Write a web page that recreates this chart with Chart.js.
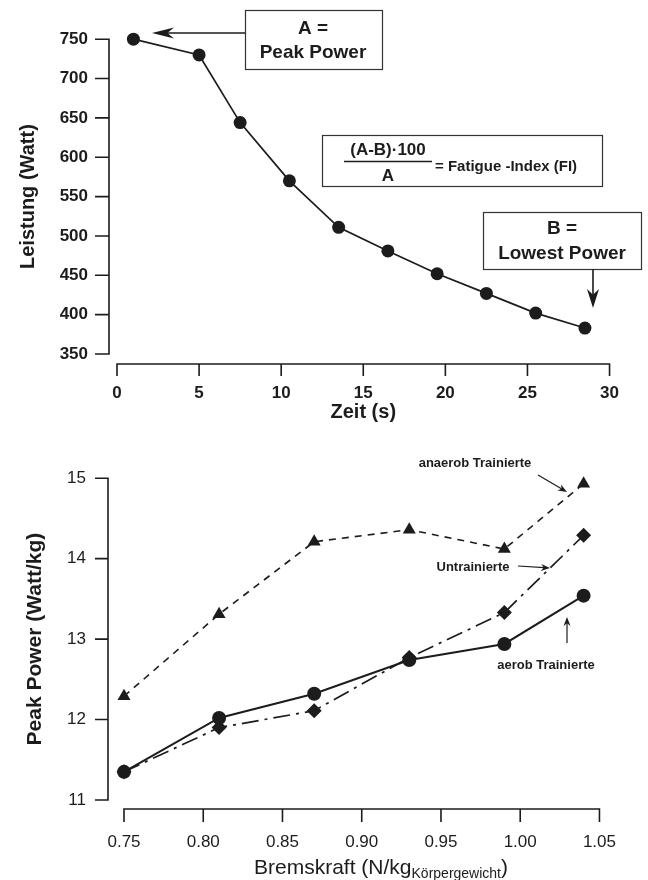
<!DOCTYPE html>
<html><head><meta charset="utf-8">
<script src="https://cdn.jsdelivr.net/npm/chart.js@4.4.0/dist/chart.umd.min.js"></script>
<style>
html,body{margin:0;padding:0;background:#fff;}
#wrap{position:relative;width:648px;height:880px;overflow:hidden;}
canvas{position:absolute;left:0;}
</style></head><body>
<div id="wrap">
<canvas id="c1" width="648" height="430" style="top:0"></canvas>
<canvas id="c2" width="648" height="450" style="top:430px"></canvas>
</div>
<script>
// ---- data: top chart ----
const zeitSec = [1, 5, 7.5, 10.5, 13.5, 16.5, 19.5, 22.5, 25.5, 28.5];
const leistungWatt = [750, 730, 644, 570, 511, 481, 452, 427, 402, 383];
const zeitTicks = [0, 5, 10, 15, 20, 25, 30];
const leistungTicks = [350, 400, 450, 500, 550, 600, 650, 700, 750];

// ---- data: bottom chart ----
const bremskraft = [0.75, 0.81, 0.87, 0.93, 0.99, 1.04];
const aerobTrainierte = [11.35, 12.02, 12.32, 12.74, 12.94, 13.54];
const untrainierte = [11.35, 11.90, 12.11, 12.77, 13.33, 14.29];
const anaerobTrainierte = [12.29, 13.31, 14.21, 14.36, 14.12, 14.93];
const bremsTicks = [0.75, 0.80, 0.85, 0.90, 0.95, 1.00, 1.05];
const bremsTickLabels = ['0.75', '0.80', '0.85', '0.90', '0.95', '1.00', '1.05'];
const peakTicks = [11, 12, 13, 14, 15];

const INK = '#1c1c1c';
const FONT = "'Liberation Sans', Arial, Helvetica, sans-serif";
Chart.defaults.font.family = FONT;
Chart.defaults.color = INK;

function pts(xs, ys) { return xs.map((x, i) => ({ x: x, y: ys[i] })); }

function offsetAxes(id, cfg) {
  return {
    id: id,
    afterDraw(chart) {
      const ctx = chart.ctx, a = chart.chartArea, x = chart.scales.x, y = chart.scales.y;
      ctx.save();
      ctx.strokeStyle = INK; ctx.lineWidth = cfg.lw; ctx.lineCap = 'butt';
      ctx.beginPath();
      const yx = a.left - cfg.yOff;
      ctx.moveTo(yx, y.getPixelForValue(y.min) + cfg.lw / 2);
      ctx.lineTo(yx, y.getPixelForValue(y.max) - cfg.lw / 2);
      y.ticks.forEach(t => { const py = y.getPixelForValue(t.value); ctx.moveTo(yx - cfg.yTick, py); ctx.lineTo(yx, py); });
      const xy = a.bottom + cfg.xOff;
      ctx.moveTo(x.getPixelForValue(x.min) - cfg.lw / 2, xy);
      ctx.lineTo(x.getPixelForValue(x.max) + cfg.lw / 2, xy);
      x.ticks.forEach(t => { const px = x.getPixelForValue(t.value); ctx.moveTo(px, xy); ctx.lineTo(px, xy + cfg.xTick); });
      ctx.stroke();
      ctx.restore();
    }
  };
}

function arrowHead(ctx, tx, ty, dx, dy, len, hw) {
  // tip at (tx,ty); (dx,dy) unit vector pointing from tail to tip
  const bx = tx - dx * len, by = ty - dy * len;
  const nx = -dy, ny = dx;
  ctx.beginPath();
  ctx.moveTo(tx, ty);
  ctx.lineTo(bx + nx * hw, by + ny * hw);
  ctx.lineTo(tx - dx * len * 0.7, ty - dy * len * 0.7);
  ctx.lineTo(bx - nx * hw, by - ny * hw);
  ctx.closePath();
  ctx.fill();
}
function arrow(ctx, x1, y1, x2, y2, len, hw, lw) {
  const L = Math.hypot(x2 - x1, y2 - y1), dx = (x2 - x1) / L, dy = (y2 - y1) / L;
  ctx.lineWidth = lw;
  ctx.beginPath(); ctx.moveTo(x1, y1); ctx.lineTo(x2 - dx * len * 0.6, y2 - dy * len * 0.6); ctx.stroke();
  arrowHead(ctx, x2, y2, dx, dy, len, hw);
}

// ---------------- TOP CHART ----------------
const topNotes = {
  id: 'topNotes',
  afterDraw(chart) {
    const ctx = chart.ctx;
    ctx.save();
    ctx.strokeStyle = '#333'; ctx.fillStyle = INK; ctx.lineWidth = 1.2;
    ctx.textAlign = 'center'; ctx.textBaseline = 'middle';
    // A box
    ctx.strokeRect(245.5, 10.5, 137, 59);
    ctx.font = 'bold 19px ' + FONT;
    ctx.fillText('A =', 313, 29);
    ctx.fillText('Peak Power', 313, 53);
    ctx.strokeStyle = INK;
    arrow(ctx, 245, 33, 152, 33, 22, 5.5, 1.6);
    // formula box
    ctx.strokeStyle = '#333'; ctx.lineWidth = 1.2;
    ctx.strokeRect(322.5, 135.5, 280, 51);
    ctx.font = 'bold 17px ' + FONT;
    ctx.fillText('(A-B)\u00b7100', 388, 150);
    ctx.fillText('A', 388, 176);
    ctx.lineWidth = 1.5; ctx.strokeStyle = INK;
    ctx.beginPath(); ctx.moveTo(344, 161.5); ctx.lineTo(432, 161.5); ctx.stroke();
    ctx.textAlign = 'left';
    ctx.font = 'bold 15px ' + FONT;
    ctx.fillText('= Fatigue -Index (FI)', 435, 167);
    // B box
    ctx.textAlign = 'center';
    ctx.strokeStyle = '#333'; ctx.lineWidth = 1.2;
    ctx.strokeRect(483.5, 212.5, 158, 57);
    ctx.font = 'bold 19px ' + FONT;
    ctx.fillText('B =', 562, 229);
    ctx.fillText('Lowest Power', 562, 254);
    ctx.strokeStyle = INK;
    arrow(ctx, 593, 269, 593, 308, 19, 6, 1.6);
    ctx.restore();
  }
};

new Chart(document.getElementById('c1'), {
  type: 'line',
  data: {
    datasets: [{
      data: pts(zeitSec, leistungWatt),
      borderColor: INK, borderWidth: 1.7, tension: 0,
      pointRadius: 6.5, pointBackgroundColor: INK, pointBorderColor: INK, pointBorderWidth: 0,
      clip: false
    }]
  },
  options: {
    responsive: false, animation: false, devicePixelRatio: 1,
    layout: { padding: { top: 38, right: 31, left: 0, bottom: 0 } },
    plugins: { legend: { display: false }, tooltip: { enabled: false } },
    scales: {
      x: {
        type: 'linear', min: 0, max: 30,
        afterBuildTicks: s => { s.ticks = zeitTicks.map(v => ({ value: v })); },
        afterFit: s => { s.height = 76; },
        grid: { display: false, drawTicks: false }, border: { display: false },
        ticks: { padding: 29, maxRotation: 0, autoSkip: false, font: { size: 17, weight: 'bold' }, color: INK },
        title: { display: true, text: 'Zeit (s)', font: { size: 20, weight: 'bold' }, color: INK, padding: { top: 0, bottom: 6 } }
      },
      y: {
        type: 'linear', min: 350, max: 750,
        afterBuildTicks: s => { s.ticks = leistungTicks.map(v => ({ value: v })); },
        afterFit: s => { s.width = 117; },
        grid: { display: false, drawTicks: false }, border: { display: false },
        ticks: { padding: 29, autoSkip: false, font: { size: 17, weight: 'bold' }, color: INK },
        title: { display: true, text: 'Leistung (Watt)', font: { size: 20, weight: 'bold' }, color: INK, padding: { top: 16, bottom: 0 } }
      }
    }
  },
  plugins: [offsetAxes('ax1', { lw: 1.6, yOff: 8, yTick: 14, xOff: 10, xTick: 12 }), topNotes]
});

// ---------------- BOTTOM CHART ----------------
const bottomNotes = {
  id: 'bottomNotes',
  afterDraw(chart) {
    const ctx = chart.ctx;
    ctx.save();
    ctx.fillStyle = INK; ctx.strokeStyle = INK;
    ctx.textAlign = 'center'; ctx.textBaseline = 'middle';
    ctx.font = 'bold 13px ' + FONT;
    ctx.fillText('anaerob Trainierte', 475, 33);
    ctx.fillText('Untrainierte', 473, 137);
    ctx.fillText('aerob Trainierte', 546, 235);
    arrow(ctx, 538, 45, 567, 62, 9, 3.5, 1.2);
    arrow(ctx, 518, 136, 550, 138, 9, 3.5, 1.2);
    arrow(ctx, 567, 213, 567, 187, 9, 3.5, 1.2);
    // x axis title with subscript
    const main = 'Bremskraft (N/kg', sub = 'K\u00f6rpergewicht', close = ')';
    ctx.textBaseline = 'alphabetic'; ctx.textAlign = 'left';
    ctx.font = '21px ' + FONT; const wMain = ctx.measureText(main).width, wClose = ctx.measureText(close).width;
    ctx.font = '14px ' + FONT; const wSub = ctx.measureText(sub).width;
    let x0 = 381 - (wMain + wSub + wClose) / 2;
    ctx.font = '21px ' + FONT; ctx.fillText(main, x0, 444);
    ctx.font = '14px ' + FONT; ctx.fillText(sub, x0 + wMain, 448);
    ctx.font = '21px ' + FONT; ctx.fillText(close, x0 + wMain + wSub, 444);
    ctx.restore();
  }
};

new Chart(document.getElementById('c2'), {
  type: 'line',
  data: {
    datasets: [
      {
        label: 'aerob Trainierte', data: pts(bremskraft, aerobTrainierte),
        borderColor: INK, borderWidth: 2, tension: 0,
        pointStyle: 'circle', pointRadius: 7, pointBackgroundColor: INK, pointBorderColor: INK, pointBorderWidth: 0,
        clip: false
      },
      {
        label: 'Untrainierte', data: pts(bremskraft, untrainierte),
        borderColor: INK, borderWidth: 1.7, borderDash: [17, 6, 3, 6], tension: 0,
        pointStyle: 'rectRot', pointRadius: 7.5, pointBackgroundColor: INK, pointBorderColor: INK, pointBorderWidth: 0,
        clip: false
      },
      {
        label: 'anaerob Trainierte', data: pts(bremskraft, anaerobTrainierte),
        borderColor: INK, borderWidth: 1.6, borderDash: [7, 6], tension: 0,
        pointStyle: 'triangle', pointRadius: 7.5, pointBackgroundColor: INK, pointBorderColor: INK, pointBorderWidth: 0,
        clip: false
      }
    ]
  },
  options: {
    responsive: false, animation: false, devicePixelRatio: 1,
    layout: { padding: { top: 33, right: 26, left: 0, bottom: 0 } },
    plugins: { legend: { display: false }, tooltip: { enabled: false } },
    scales: {
      x: {
        type: 'linear', min: 0.75, max: 1.05,
        afterBuildTicks: s => { s.ticks = bremsTicks.map(v => ({ value: v })); },
        afterFit: s => { s.height = 80; },
        grid: { display: false, drawTicks: false }, border: { display: false },
        ticks: {
          padding: 32, maxRotation: 0, autoSkip: false, font: { size: 17 }, color: INK,
          callback: v => bremsTickLabels[bremsTicks.findIndex(t => Math.abs(t - v) < 1e-6)]
        },
        title: { display: false }
      },
      y: {
        type: 'linear', min: 11, max: 15,
        afterBuildTicks: s => { s.ticks = peakTicks.map(v => ({ value: v })); },
        afterFit: s => { s.width = 124; },
        grid: { display: false, drawTicks: false }, border: { display: false },
        ticks: { padding: 38, autoSkip: false, font: { size: 17 }, color: INK },
        title: { display: true, text: 'Peak Power (Watt/kg)', font: { size: 21, weight: 'bold' }, color: INK, padding: { top: 23, bottom: 0 } }
      }
    }
  },
  plugins: [offsetAxes('ax2', { lw: 1.6, yOff: 16, yTick: 13, xOff: 9, xTick: 13 }), bottomNotes]
});
</script>
</body></html>
